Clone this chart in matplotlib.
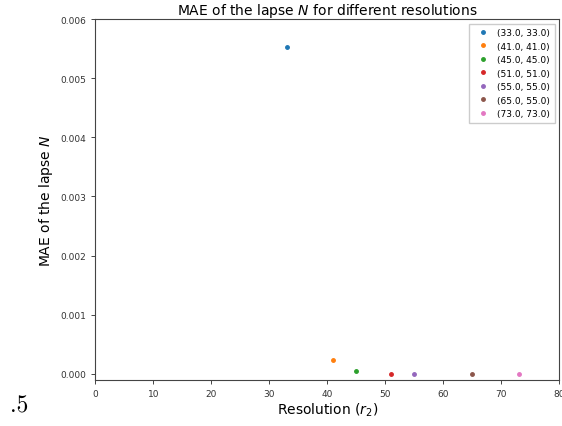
import matplotlib
matplotlib.use("Agg")
import matplotlib.pyplot as plt

# resolutions (r1, r2) and MAE of the lapse
res_r1 = [33.0, 41.0, 45.0, 51.0, 55.0, 65.0, 73.0]
res_r2 = [33.0, 41.0, 45.0, 51.0, 55.0, 55.0, 73.0]
mae_lapse = [0.00553, 0.00024, 0.000045, 0.000004, 0.000004, 0.000004, 0.000004]

colors = ['#1f77b4', '#ff7f0e', '#2ca02c', '#d62728', '#9467bd', '#8c564b', '#e377c2']

fig = plt.figure(figsize=(5.62, 4.27), dpi=100)
ax = fig.add_axes([0.1696, 0.1084, 0.8256, 0.8447])

for r1, r2, m, c in zip(res_r1, res_r2, mae_lapse, colors):
    ax.plot(r1, m, 'o', color=c, markersize=2.5, label=f"({r1}, {r2})")

ax.set_xlim(0, 80)
ax.set_ylim(-0.0001, 0.006)
ax.set_yticks([0, 0.001, 0.002, 0.003, 0.004, 0.005, 0.006])
ax.set_yticklabels([f"{v:.3f}" for v in ax.get_yticks()])
ax.tick_params(labelsize=6.5, length=3, width=0.7, color='#444444', labelcolor='#333333')
for s in ax.spines.values():
    s.set_linewidth(0.8)
    s.set_color('#444444')

ax.set_title("MAE of the lapse $N$ for different resolutions", fontsize=10, pad=3)
ax.set_ylabel("MAE of the lapse $N$", fontsize=10)
ax.set_xlabel("Resolution ($r_2$)", fontsize=10, labelpad=2)
ax.legend(fontsize=6.5, loc='upper right', handletextpad=0.6, borderpad=0.5,
          labelspacing=0.5, fancybox=False, framealpha=1, edgecolor='#cccccc')

# stray label left over below the axes
fig.text(0.018, 0.035, ".5", fontsize=17, fontfamily='cmr10')

fig.savefig("out.png", dpi=100)
